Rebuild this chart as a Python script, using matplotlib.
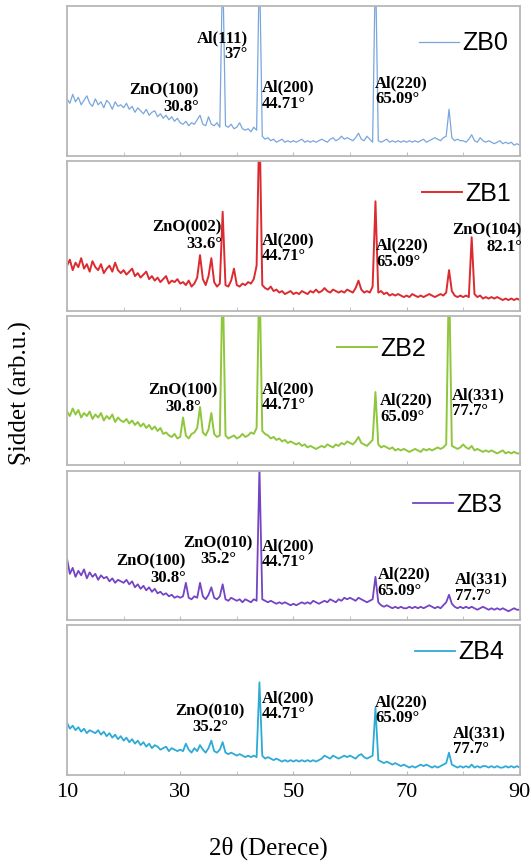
import matplotlib
matplotlib.use("Agg")
import matplotlib.pyplot as plt
import numpy as np

# 2-theta scan grid (0.5 deg step) and intensities,
# in percent of each panel's height
two_theta = np.arange(10, 90.5, 0.5)

zb0 = [38, 35, 41, 36, 39, 34, 37, 40, 35, 33, 38, 34, 36, 32, 37, 35, 31, 36, 33, 34,
       32, 35, 31, 33, 29, 32, 30, 28, 31, 27, 29, 30, 26, 28, 25, 27, 24, 26, 23, 25,
       22, 21, 23, 20, 22, 21, 24, 27, 21, 20, 26, 21, 20, 22, 19, 130, 20, 19, 21, 18,
       19, 22, 18, 17, 18, 16, 19, 17, 130, 13, 11, 12, 10, 11, 9, 10, 11, 9, 10, 9,
       10, 9, 10, 11, 9, 10, 9, 10, 9, 10, 11, 10, 9, 11, 12, 10, 11, 13, 11, 12,
       11, 10, 12, 15, 11, 10, 13, 11, 9, 130, 10, 9, 10, 11, 9, 10, 9, 10, 9, 10,
       9, 10, 9, 10, 9, 10, 11, 9, 10, 11, 12, 11, 10, 12, 13, 31, 12, 10, 11, 10,
       10, 9, 11, 14, 10, 9, 12, 10, 9, 10, 9, 8, 9, 10, 8, 9, 8, 9, 7, 8,
       7]

zb1 = [30, 34, 27, 32, 29, 35, 28, 31, 26, 33, 29, 27, 31, 25, 28, 30, 26, 32, 27, 25,
       27, 24, 26, 28, 23, 25, 22, 24, 26, 21, 23, 20, 22, 19, 21, 23, 18, 20, 19, 21,
       18, 19, 17, 20, 16, 18, 22, 37, 21, 17, 23, 35, 19, 16, 18, 66, 17, 16, 20, 28,
       17, 16, 18, 17, 19, 18, 21, 30, 130, 17, 15, 14, 16, 13, 14, 12, 13, 11, 12, 13,
       11, 12, 11, 13, 12, 11, 13, 12, 14, 12, 13, 15, 13, 12, 14, 13, 12, 13, 12, 14,
       13, 12, 15, 20, 14, 12, 13, 12, 16, 73, 12, 13, 11, 12, 10, 11, 10, 11, 10, 9,
       10, 9, 11, 10, 9, 10, 9, 10, 11, 10, 9, 10, 11, 10, 12, 27, 13, 10, 9, 10,
       9, 10, 9, 49, 11, 9, 10, 8, 9, 8, 9, 8, 9, 8, 7, 8, 7, 8, 7, 8,
       7]

zb2 = [36, 33, 38, 34, 37, 32, 35, 33, 36, 31, 34, 32, 35, 30, 33, 31, 34, 29, 32, 30,
       29, 31, 28, 30, 27, 29, 26, 28, 25, 27, 24, 26, 23, 25, 21, 22, 20, 19, 21, 18,
       19, 32, 20, 18, 21, 22, 25, 39, 22, 20, 24, 35, 21, 19, 20, 130, 20, 18, 19, 20,
       18, 19, 21, 19, 20, 22, 21, 25, 130, 23, 21, 20, 18, 19, 17, 18, 16, 17, 15, 16,
       15, 14, 15, 13, 14, 12, 13, 12, 11, 12, 13, 12, 14, 13, 12, 14, 13, 15, 14, 16,
       15, 14, 16, 19, 15, 14, 13, 15, 17, 49, 14, 12, 13, 12, 11, 12, 10, 11, 10, 11,
       10, 9, 10, 11, 10, 9, 11, 10, 11, 10, 11, 12, 11, 12, 14, 130, 13, 12, 11, 12,
       14, 12, 11, 13, 10, 11, 10, 9, 10, 9, 10, 9, 8, 9, 10, 8, 9, 8, 9, 8,
       8]

zb3 = [41, 31, 35, 29, 33, 30, 34, 28, 32, 29, 31, 27, 30, 28, 29, 26, 28, 25, 27, 26,
       25, 27, 24, 26, 22, 24, 21, 23, 20, 22, 19, 21, 18, 19, 17, 18, 16, 17, 15, 16,
       15, 16, 25, 15, 14, 16, 15, 25, 16, 14, 17, 22, 15, 14, 16, 24, 14, 13, 15, 14,
       13, 14, 12, 14, 13, 12, 14, 13, 102, 14, 13, 12, 13, 12, 11, 12, 11, 12, 11, 10,
       11, 10, 11, 12, 11, 12, 11, 13, 12, 11, 12, 13, 12, 14, 13, 12, 14, 13, 15, 14,
       15, 14, 13, 15, 14, 13, 12, 13, 14, 29, 12, 10, 9, 10, 9, 8, 9, 8, 9, 8,
       8, 9, 8, 9, 8, 9, 8, 9, 10, 9, 8, 9, 8, 10, 12, 17, 11, 9, 8, 9,
       8, 9, 8, 9, 8, 7, 8, 9, 8, 7, 8, 7, 8, 7, 8, 7, 6, 7, 8, 7,
       7]

zb4 = [35, 31, 33, 30, 32, 29, 31, 28, 30, 29, 28, 30, 27, 29, 26, 28, 25, 27, 24, 26,
       23, 25, 22, 24, 21, 23, 20, 22, 19, 21, 18, 20, 19, 17, 18, 19, 16, 18, 17, 16,
       17, 16, 21, 17, 15, 18, 16, 20, 17, 15, 18, 23, 16, 15, 17, 22, 15, 14, 15, 14,
       13, 14, 13, 12, 13, 12, 13, 12, 62, 13, 11, 12, 11, 10, 11, 10, 9, 10, 9, 10,
       9, 10, 9, 10, 9, 10, 9, 10, 9, 10, 11, 13, 12, 11, 13, 12, 11, 12, 13, 12,
       13, 12, 11, 13, 14, 12, 11, 12, 13, 45, 10, 9, 8, 9, 8, 7, 8, 7, 6, 7,
       6, 5, 6, 5, 6, 7, 6, 7, 6, 5, 6, 5, 6, 7, 8, 15, 7, 6, 5, 6,
       5, 6, 5, 7, 5, 6, 5, 6, 6, 5, 6, 5, 6, 5, 5, 6, 5, 6, 5, 6,
       5]

names = ["ZB0", "ZB1", "ZB2", "ZB3", "ZB4"]
series = [zb0, zb1, zb2, zb3, zb4]
colors = ["#7aa6dd", "#dc2b30", "#8fc63c", "#7444c4", "#2eaad6"]
widths = [0.9, 1.4, 1.4, 1.3, 1.3]

# peak labels: text, x (deg), y (axes frac), alignment
peak_labels = [
    [("Al(111)\n37°", 41.9, 0.73, "right"),
     ("ZnO(100)\n30.8°", 33.3, 0.38, "right"),
     ("Al(200)\n44.71°", 44.4, 0.40, "left"),
     ("Al(220)\n65.09°", 64.4, 0.43, "left")],
    [("ZnO(002)\n33.6°", 37.4, 0.50, "right"),
     ("Al(200)\n44.71°", 44.4, 0.415, "left"),
     ("Al(220)\n65.09°", 64.6, 0.38, "left"),
     ("ZnO(104)\n82.1°", 90.4, 0.48, "right")],
    [("ZnO(100)\n30.8°", 30.5, 0.446, "center"),
     ("Al(200)\n44.71°", 44.4, 0.456, "left"),
     ("Al(220)\n65.09°", 65.3, 0.378, "left"),
     ("Al(331)\n77.7°", 78.0, 0.415, "left")],
    [("ZnO(100)\n30.8°", 31.0, 0.337, "right"),
     ("ZnO(010)\n35.2°", 36.7, 0.46, "center"),
     ("Al(200)\n44.71°", 44.4, 0.443, "left"),
     ("Al(220)\n65.09°", 64.9, 0.25, "left"),
     ("Al(331)\n77.7°", 78.5, 0.217, "left")],
    [("ZnO(010)\n35.2°", 35.25, 0.373, "center"),
     ("Al(200)\n44.71°", 44.4, 0.46, "left"),
     ("Al(220)\n65.09°", 64.4, 0.433, "left"),
     ("Al(331)\n77.7°", 78.2, 0.227, "left")],
]
legend_pos = [(0.777, 0.75), (0.784, 0.78), (0.596, 0.78), (0.764, 0.77), (0.768, 0.82)]

serif = "Liberation Serif"
sans = "Liberation Sans"

fig, axes = plt.subplots(5, 1, sharex=True, figsize=(5.32, 8.66), dpi=100,
                         gridspec_kw=dict(hspace=0.035))
fig.subplots_adjust(left=0.126, right=0.977, top=0.993, bottom=0.105)

for i, ax in enumerate(axes):
    y = np.array(series[i])
    assert len(y) == len(two_theta)
    line, = ax.plot(two_theta, y, color=colors[i], lw=widths[i])
    ax.set_xlim(10, 90)
    ax.set_ylim(0, 100)
    ax.set_yticks([])
    for s in ax.spines.values():
        s.set_color("#b8b8b8")
        s.set_linewidth(1.3)
    ax.set_xticks([10, 30, 50, 70, 90])
    ax.set_xticks([20, 40, 60, 80], minor=True)
    ax.tick_params(axis="x", which="both", direction="in", length=3,
                   color="#b8b8b8", labelsize=16, pad=6)
    for t in ax.get_xticklabels():
        t.set_fontfamily(serif)
    tr = ax.get_xaxis_transform()
    for txt, xx, yy, ha in peak_labels[i]:
        ax.text(xx, yy, txt, transform=tr, ha=ha, va="center", multialignment=ha,
                family=serif, fontweight="bold", fontsize=12, linespacing=1.0)
    ax.legend([line], [names[i]], loc="center left", bbox_to_anchor=legend_pos[i],
              frameon=False, prop=dict(family=sans, size=18), handlelength=1.6,
              handletextpad=0.15, borderpad=0, borderaxespad=0)

fig.text(0.038, 0.546, "Şiddet (arb.u.)", rotation=90, ha="center", va="center",
         family=serif, fontsize=18)
fig.text(0.504, 0.021, "2θ (Derece)", ha="center", va="center",
         family=serif, fontsize=18)

fig.savefig("out.png", dpi=100)
